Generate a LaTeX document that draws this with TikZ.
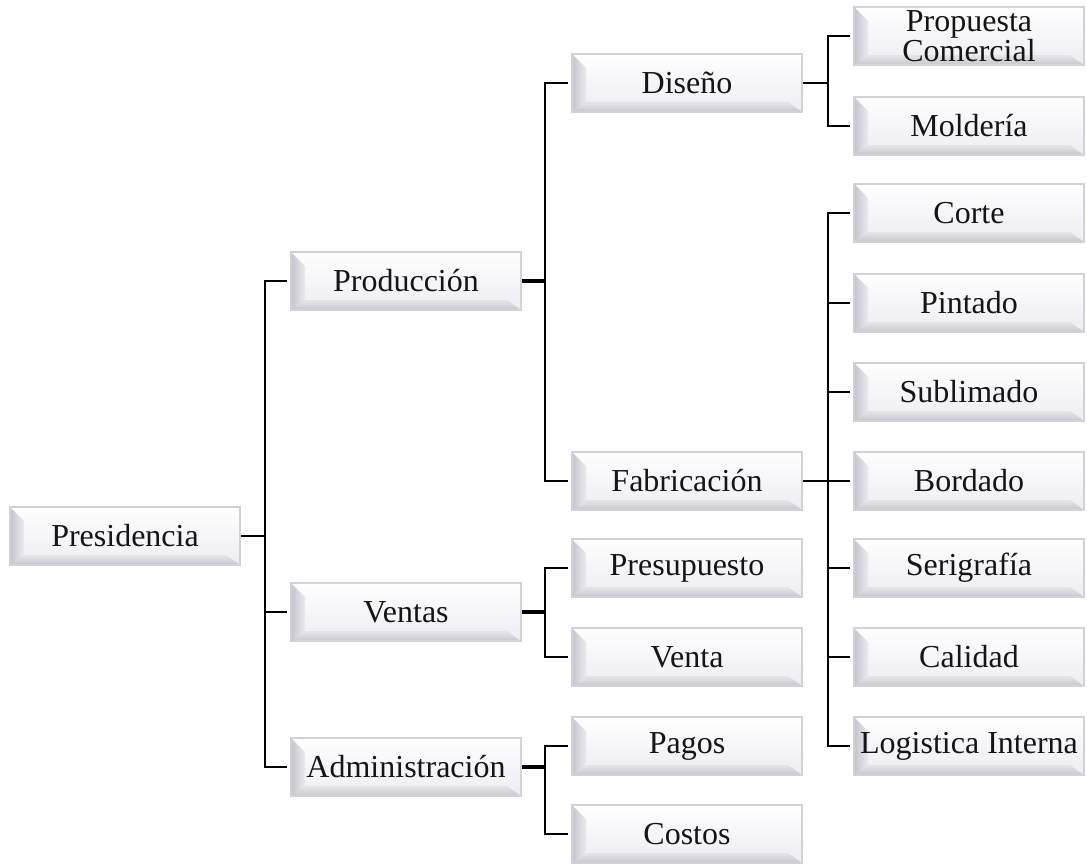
\documentclass[tikz,border=0pt]{standalone}
\usepackage{fontspec}
\setmainfont{Liberation Serif}
\usetikzlibrary{calc}
\definecolor{frame}{HTML}{D2D2D6}
\definecolor{faceB}{HTML}{ECECF3}
\definecolor{bevL}{HTML}{C4C4CE}
\definecolor{bevB}{HTML}{C6C6CE}
\definecolor{ink}{HTML}{151515}
\tikzset{
  unitbox/.style={
    minimum width=230pt, minimum height=58pt, inner sep=2pt,
    draw=frame, line width=1.4pt, fill=white, align=center,
    font=\fontsize{32}{29}\selectfont, text=ink,
    path picture={
      \path (path picture bounding box.south west) coordinate (pSW)
            (path picture bounding box.north east) coordinate (pNE);
      % face of the bevelled button
      \shade[top color=white, bottom color=faceB] (pSW) rectangle (pNE);
      % left bevel
      \shade[left color=bevL, right color=bevL!35!white]
        (pSW) -- (pSW |- pNE) -- ($(pSW |- pNE)+(14pt,-14pt)$)
        -- ($(pSW)+(14pt,10pt)$) -- cycle;
      % bottom bevel
      \shade[top color=bevB!45!white, bottom color=bevB]
        (pSW) -- ($(pSW)+(14pt,10pt)$) -- ($(pNE |- pSW)+(-14pt,10pt)$)
        -- (pNE |- pSW) -- cycle;
    }
  },
  link/.style={draw=black, line width=2.8pt},
  trunk/.style={draw=black, line width=4pt}
}
\begin{document}
\begin{tikzpicture}[x=1pt, y=-1pt]
\useasboundingbox (0,0) rectangle (1087,863);

% level 1
\node[unitbox] (pres) at (125,536) {Presidencia};
% level 2
\node[unitbox] (prod) at (406,281) {Producción};
\node[unitbox] (vent) at (406,612) {Ventas};
\node[unitbox] (adm)  at (406,767) {Administración};
% level 3
\node[unitbox] (dis) at (687,83)  {Diseño};
\node[unitbox] (fab) at (687,481) {Fabricación};
\node[unitbox] (pre) at (687,568) {Presupuesto};
\node[unitbox] (ven) at (687,657) {Venta};
\node[unitbox] (pag) at (687,746) {Pagos};
\node[unitbox] (cos) at (687,834) {Costos};
% level 4
\node[unitbox] (prop) at (969,36)  {Propuesta\\Comercial};
\node[unitbox] (mol)  at (969,126) {Moldería};
\node[unitbox] (cor)  at (969,213) {Corte};
\node[unitbox] (pin)  at (969,303) {Pintado};
\node[unitbox] (sub)  at (969,392) {Sublimado};
\node[unitbox] (bor)  at (969,481) {Bordado};
\node[unitbox] (ser)  at (969,568) {Serigrafía};
\node[unitbox] (cal)  at (969,657) {Calidad};
\node[unitbox] (log)  at (969,746) {Logistica Interna};

% junction points
\coordinate (j1) at (265,536);
\coordinate (j2) at (545,281);
\coordinate (j3) at (545,612);
\coordinate (j4) at (545,767);
\coordinate (j5) at (828,83);
\coordinate (j6) at (828,481);

% Presidencia
\draw[link] (pres.east) -- (j1);
\draw[link] ([xshift=-3pt]prod.west) -| (j1) |- ([xshift=-3pt]adm.west);
\draw[link] ([xshift=-3pt]vent.west) -- (vent.west -| j1);

% Producción
\draw[trunk] (prod.east) -- (j2);
\draw[link] ([xshift=-3pt]dis.west) -| (j2) |- ([xshift=-3pt]fab.west);

% Ventas
\draw[trunk] (vent.east) -- (j3);
\draw[link] ([xshift=-3pt]pre.west) -| (j3) |- ([xshift=-3pt]ven.west);

% Administración
\draw[trunk] (adm.east) -- (j4);
\draw[link] ([xshift=-3pt]pag.west) -| (j4) |- ([xshift=-3pt]cos.west);

% Diseño
\draw[link] (dis.east) -- (j5);
\draw[link] ([xshift=-3pt]prop.west) -| (j5) |- ([xshift=-3pt]mol.west);

% Fabricación
\draw[link] (fab.east) -- (j6);
\draw[link] ([xshift=-3pt]cor.west) -| (j6) |- ([xshift=-3pt]log.west);
\foreach \n in {pin,sub,bor,ser,cal}
  \draw[link] ([xshift=-3pt]\n.west) -- (\n.west -| j6);
\end{tikzpicture}
\end{document}
